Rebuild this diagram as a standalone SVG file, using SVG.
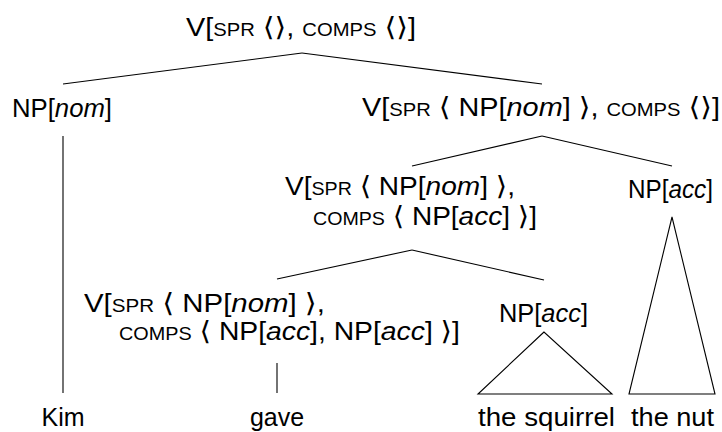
<svg xmlns="http://www.w3.org/2000/svg" width="722" height="432" viewBox="0 0 722 432">
<style>
text{font-family:'Liberation Sans',Arial,sans-serif;font-size:25px;fill:#000}
.sc{font-size:17.5px}
.it{font-style:italic}
.m{text-anchor:middle}
.br{font-family:'DejaVu Sans',sans-serif;font-size:26px}
#edges line,#edges polygon{stroke:#000;stroke-width:1.1;fill:none}
</style>
<rect width="722" height="432" fill="#fff"/>
<g id="edges">
<line x1="302" y1="53" x2="63" y2="84"/>
<line x1="302" y1="53" x2="542" y2="84"/>
<line x1="63" y1="136" x2="63" y2="393"/>
<line x1="542" y1="136" x2="412" y2="166"/>
<line x1="542" y1="136" x2="672" y2="166"/>
<line x1="412" y1="250" x2="277" y2="279"/>
<line x1="412" y1="250" x2="544" y2="280"/>
<line x1="277" y1="363" x2="277" y2="393"/>
<polygon points="544,332 478,394 612,394"/>
<polygon points="672,217 629,394 715,394"/>
</g>
<g id="root"><text x="186" y="36" textLength="230" lengthAdjust="spacingAndGlyphs">V[<tspan class="sc">SPR</tspan> <tspan class="br">⟨⟩</tspan>, <tspan class="sc">COMPS</tspan> <tspan class="br">⟨⟩</tspan>]</text></g>
<g id="np-nom"><text x="12" y="117" textLength="100" lengthAdjust="spacingAndGlyphs">NP[<tspan class="it">nom</tspan>]</text></g>
<g id="vp"><text x="362" y="116" textLength="358" lengthAdjust="spacingAndGlyphs">V[<tspan class="sc">SPR</tspan> <tspan class="br">⟨</tspan> NP[<tspan class="it">nom</tspan>] <tspan class="br">⟩</tspan>, <tspan class="sc">COMPS</tspan> <tspan class="br">⟨⟩</tspan>]</text></g>
<g id="v-mid"><text x="285" y="195" textLength="230" lengthAdjust="spacingAndGlyphs">V[<tspan class="sc">SPR</tspan> <tspan class="br">⟨</tspan> NP[<tspan class="it">nom</tspan>] <tspan class="br">⟩</tspan>,</text>
<text x="313" y="225" textLength="224" lengthAdjust="spacingAndGlyphs"><tspan class="sc">COMPS</tspan> <tspan class="br">⟨</tspan> NP[<tspan class="it">acc</tspan>] <tspan class="br">⟩</tspan>]</text></g>
<g id="np-acc-nut"><text x="628" y="198" textLength="85" lengthAdjust="spacingAndGlyphs">NP[<tspan class="it">acc</tspan>]</text></g>
<g id="v-low"><text x="84" y="312" textLength="241" lengthAdjust="spacingAndGlyphs">V[<tspan class="sc">SPR</tspan> <tspan class="br">⟨</tspan> NP[<tspan class="it">nom</tspan>] <tspan class="br">⟩</tspan>,</text>
<text x="119" y="340" textLength="341" lengthAdjust="spacingAndGlyphs"><tspan class="sc">COMPS</tspan> <tspan class="br">⟨</tspan> NP[<tspan class="it">acc</tspan>], NP[<tspan class="it">acc</tspan>] <tspan class="br">⟩</tspan>]</text></g>
<g id="np-acc-sq"><text x="499" y="322" textLength="89" lengthAdjust="spacingAndGlyphs">NP[<tspan class="it">acc</tspan>]</text></g>
<g id="kim"><text class="m" x="63" y="426">Kim</text></g>
<g id="gave"><text class="m" x="277" y="426">gave</text></g>
<g id="squirrel"><text x="478" y="426" textLength="137" lengthAdjust="spacingAndGlyphs">the squirrel</text></g>
<g id="nut"><text x="631" y="426" textLength="83" lengthAdjust="spacingAndGlyphs">the nut</text></g>
</svg>
